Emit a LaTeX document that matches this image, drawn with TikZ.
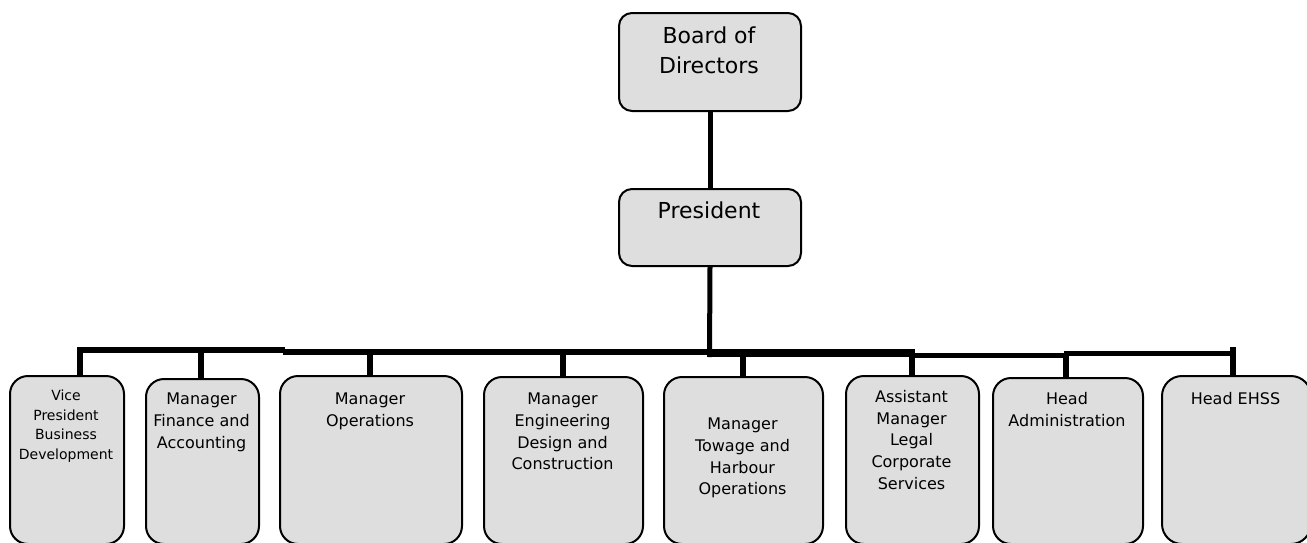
\documentclass[tikz,border=0pt]{standalone}
\usepackage{fontspec}
\setmainfont{DejaVu Sans}
\usetikzlibrary{backgrounds}
\definecolor{boxfill}{RGB}{222,222,222}
\begin{document}
\begin{tikzpicture}[x=1pt,y=-1pt,
  box/.style={draw=black, line width=2pt, fill=boxfill, rounded corners=18pt, inner sep=0pt, anchor=north west},
  topbox/.style={box, rounded corners=13pt},
  lbl/.style={anchor=north, inner sep=0pt, align=center, font=\fontsize{16}{21.7}\selectfont},
  biglbl/.style={lbl, font=\fontsize{22}{30}\selectfont},
  conn/.style={line width=5pt, black},
  drop/.style={line width=6pt, black},
]
\useasboundingbox (0,0) rectangle (1307,542);
\clip (0,0) rectangle (1307,542);

% top boxes
\node[topbox, minimum width=182pt, minimum height=98pt] (bod) at (618,12) {};
\node[topbox, minimum width=182pt, minimum height=77pt] (pres) at (618,188) {};

% lower boxes
\node[box, minimum width=114pt, minimum height=168pt] (vp)  at (9,375) {};
\node[box, minimum width=113pt, minimum height=165pt] (fin) at (145,378) {};
\node[box, minimum width=182pt, minimum height=168pt] (ops) at (279,375) {};
\node[box, minimum width=159pt, minimum height=167pt] (eng) at (483,376) {};
\node[box, minimum width=159pt, minimum height=167pt] (tow) at (663,376) {};
\node[box, minimum width=133pt, minimum height=168pt] (asm) at (845,375) {};
\node[box, minimum width=150pt, minimum height=166pt] (adm) at (992,377) {};
\node[box, minimum width=149pt, minimum height=168pt, rounded corners=20pt] (ehs) at (1161,375) {};

% texts
\node[biglbl] (bodt) at (709,27) {Board of\\Directors};
\node[biglbl] (prest) at (709,202) {President};
\node[lbl, font=\fontsize{14}{19.5}\selectfont] (vpt) at (66,390) {Vice\\President\\Business\\Development};
\node[lbl] (fint) at (201.5,393) {Manager\\Finance and\\Accounting};
\node[lbl] (opst) at (370,393) {Manager\\Operations};
\node[lbl] (engt) at (562.5,393) {Manager\\Engineering\\Design and\\Construction};
\node[lbl] (towt) at (742.5,418) {Manager\\Towage and\\Harbour\\Operations};
\node[lbl] (asmt) at (911.5,390) {Assistant\\Manager\\Legal\\Corporate\\Services};
\node[lbl] (admt) at (1067,392) {Head\\Administration};
\node[lbl] (ehst) at (1235.5,392) {Head EHSS};

% bus junctions
\coordinate (busL) at (77,350);
\coordinate (jvp)  at (80,350);
\coordinate (jfin) at (201,351.5);
\coordinate (jops) at (370,351.5);
\coordinate (jpres) at (709.5,357);
\coordinate (jeng) at (563,351.5);
\coordinate (jtow) at (743,353);
\coordinate (jasm) at (912,355);
\coordinate (jadm) at (1066,353);
\coordinate (jehs) at (1233,347);

\begin{scope}[on background layer]
  \draw[conn] (bod.south) -- (pres.north);
  \draw[conn] (pres.south) -- (jpres);
  % bus (slightly uneven, as drawn)
  \draw[line width=6pt] (busL) -- (285,350);
  \draw[line width=6pt] (283,351.5) -- (712,351.5);
  \draw[line width=8pt] (707,353) -- (915,353);
  \draw[line width=5pt] (913,355.5) -- (1069,355.5);
  \draw[line width=5pt] (1064,353.5) -- (1236,353.5);
  % drops
  \draw[drop] (jvp) -- (jvp |- vp.north);
  \draw[drop] (jfin) -- (jfin |- fin.north);
  \draw[drop] (jops) -- (jops |- ops.north);
  \draw[drop] (jeng) -- (jeng |- eng.north);
  \draw[drop] (jtow) -- (jtow |- tow.north);
  \draw[drop] (jasm) -- (jasm |- asm.north);
  \draw[drop] (jadm) -- (jadm |- adm.north);
  \draw[drop] (jehs) -- (jehs |- ehs.north);
\end{scope}
\end{tikzpicture}
\end{document}
